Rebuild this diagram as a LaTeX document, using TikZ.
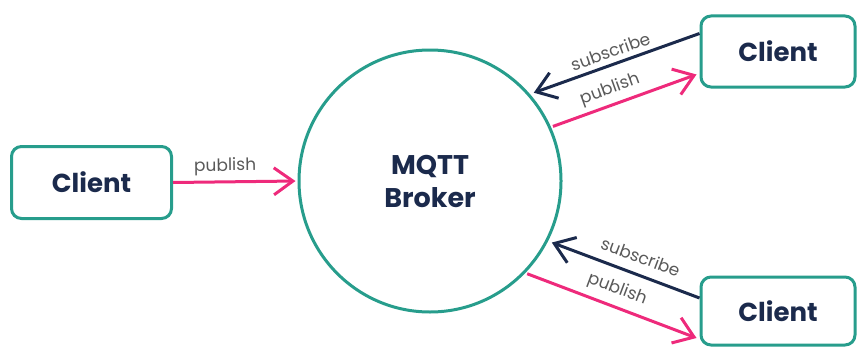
\documentclass[tikz,border=0pt]{standalone}
\usepackage{fontspec}
\setmainfont{Poppins}
\usetikzlibrary{arrows.meta,calc}
\definecolor{tealc}{HTML}{279D8C}
\definecolor{navyc}{HTML}{1B2A4C}
\definecolor{pinkc}{HTML}{EE2A7B}
\definecolor{grayc}{HTML}{595959}
\begin{document}
\begin{tikzpicture}[x=1pt,y=1pt,
  clientbox/.style={draw=tealc, line width=3pt, rounded corners=10pt, fill=white,
    text=navyc, font=\fontsize{26}{30}\selectfont\bfseries, inner sep=0pt},
  brokernode/.style={circle, draw=tealc, line width=3pt, minimum size=262pt, inner sep=0pt,
    text=navyc, font=\fontsize{27}{33}\selectfont\bfseries, align=center},
  pub/.style={draw=pinkc, line width=3pt, -{Straight Barb[length=19pt,width=27pt]}},
  sub/.style={draw=navyc, line width=3pt, -{Straight Barb[length=19pt,width=27pt]}},
  lbl/.style={font=\fontsize{17}{18}\selectfont, text=grayc, sloped, inner sep=1pt, above=4pt}
]
\useasboundingbox (0,0) rectangle (858,349);
\node[brokernode] (broker) at (430,168) {MQTT\\Broker};
\node[clientbox, minimum width=160pt, minimum height=72pt] (c0) at (91.5,166.5) {Client};
\node[clientbox, minimum width=154pt, minimum height=71pt] (c1) at (778,297.5) {Client};
\node[clientbox, minimum width=154pt, minimum height=68pt] (c2) at (778,38) {Client};

\draw[pub, shorten >=2pt] (c0.east) -- (broker.west) node[lbl, pos=0.42] {publish};

\draw[sub, shorten >=4pt] ($(c1.west)+(0,18)$) -- (broker.41) node[lbl, pos=0.5] {subscribe};
\draw[pub, shorten <=2pt] (broker.24.5) -- ($(c1.west)+(-3,-23)$) node[lbl, pos=0.44] {publish};

\draw[sub, shorten >=4pt] ($(c2.west)+(0,13)$) -- (broker.-27) node[lbl, pos=0.43, above=5pt] {subscribe};
\draw[pub, shorten <=2pt] (broker.-44) -- ($(c2.west)+(-3,-27)$) node[lbl, pos=0.5, above=2pt] {publish};
\end{tikzpicture}
\end{document}
